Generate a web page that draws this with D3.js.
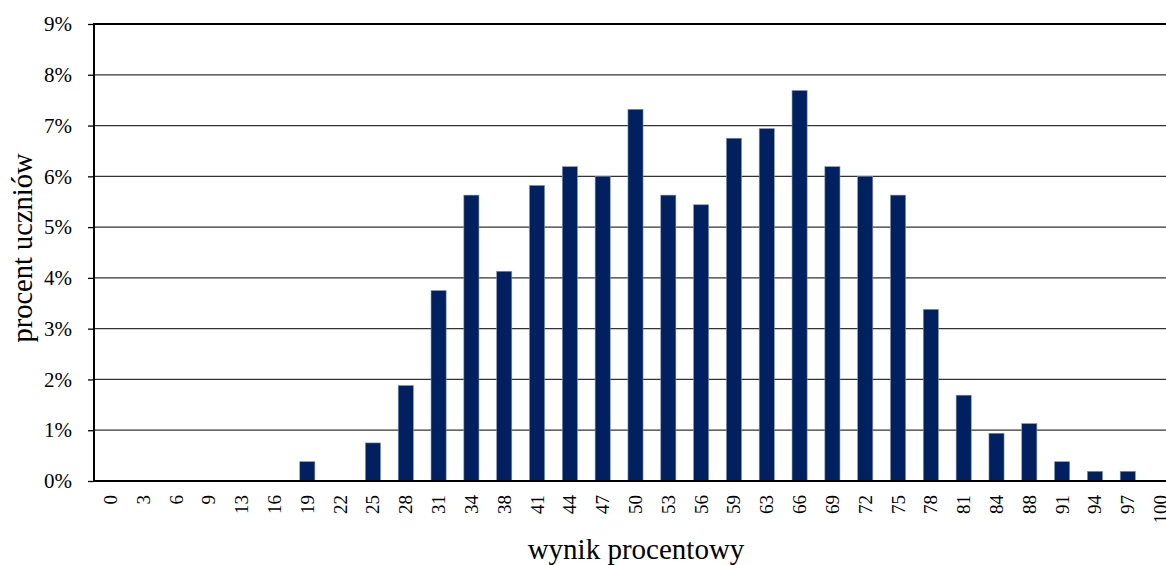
<!DOCTYPE html>
<html><head><meta charset="utf-8">
<script src="https://cdn.jsdelivr.net/npm/d3@7"></script>
<style>html,body{margin:0;padding:0;background:#fff;overflow:hidden}</style>
</head><body>
<svg id="chart" width="1166" height="565"></svg>
<script>
const categories = ["0","3","6","9","13","16","19","22","25","28","31","34","38","41","44","47","50","53","56","59","63","66","69","72","75","78","81","84","88","91","94","97","100"];
const values = [0,0,0,0,0,0,0.38,0,0.75,1.88,3.75,5.63,4.13,5.82,6.19,6.00,7.32,5.63,5.44,6.75,6.94,7.69,6.19,6.00,5.63,3.38,1.69,0.94,1.13,0.38,0.19,0.19,0];
const yTicks = [0,1,2,3,4,5,6,7,8,9];

const svg = d3.select("#chart");
const m = {left: 94, top: 24, right: 1177, bottom: 481};
const font = "'Liberation Serif','Times New Roman',serif";

const x = d3.scaleBand().domain(categories).range([m.left, m.right]).paddingInner(0.54).paddingOuter(0.27);
const y = d3.scaleLinear().domain([0, 9]).range([m.bottom, m.top]);

// gridlines
svg.append("g").selectAll("line").data(yTicks.filter(d => d > 0)).join("line")
  .attr("x1", m.left).attr("x2", m.right)
  .attr("y1", d => y(d)).attr("y2", d => y(d))
  .attr("stroke", d => d === 9 ? "#000" : "#333")
  .attr("stroke-width", d => d === 9 ? 2 : 1.3);

// bars
svg.append("g").selectAll("rect").data(values).join("rect")
  .attr("x", (d, i) => x(categories[i]))
  .attr("width", x.bandwidth())
  .attr("y", d => y(d))
  .attr("height", d => y(0) - y(d))
  .attr("fill", "#00205f")
  .attr("stroke", "#8090b8")
  .attr("stroke-width", 0.6);

// y axis
const yAxis = d3.axisLeft(y).tickValues(yTicks).tickFormat(d => d + "%").tickSize(6).tickPadding(16);
const ga = svg.append("g").attr("transform", `translate(${m.left},0)`).call(yAxis);
ga.select(".domain").remove();
ga.selectAll(".tick line").attr("stroke", "#000").attr("stroke-width", 1.3);
ga.selectAll(".tick text").attr("font-family", font).attr("font-size", 21).attr("fill", "#000");
svg.append("line").attr("x1", m.left).attr("x2", m.left).attr("y1", m.top - 1).attr("y2", m.bottom + 1)
  .attr("stroke", "#000").attr("stroke-width", 2);

// x axis
const xAxis = d3.axisBottom(x).tickSize(0).tickPadding(0);
const gx = svg.append("g").attr("transform", `translate(0,${m.bottom})`).call(xAxis);
gx.select(".domain").remove();
gx.selectAll(".tick text")
  .attr("font-family", font).attr("font-size", 19).attr("fill", "#000")
  .attr("text-anchor", "end").attr("dy", null)
  .attr("transform", "translate(0,14) rotate(-90)")
  .attr("x", 0).attr("y", 0).attr("dominant-baseline", "central");
svg.append("line").attr("x1", m.left).attr("x2", m.right).attr("y1", m.bottom).attr("y2", m.bottom)
  .attr("stroke", "#000").attr("stroke-width", 2);

// titles
svg.append("text").attr("x", 636).attr("y", 559).attr("text-anchor", "middle")
  .attr("font-family", font).attr("font-size", 29).attr("fill", "#000").text("wynik procentowy");
svg.append("text").attr("transform", "translate(32,248) rotate(-90)").attr("text-anchor", "middle")
  .attr("font-family", font).attr("font-size", 28.5).attr("fill", "#000").text("procent uczniów");
</script>
</body></html>
